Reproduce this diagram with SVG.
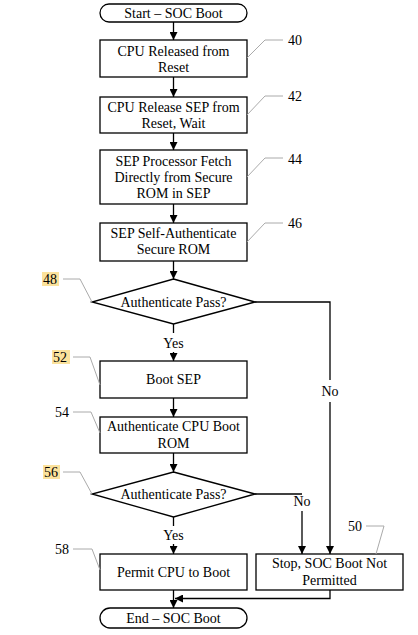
<svg xmlns="http://www.w3.org/2000/svg" width="418" height="635" viewBox="0 0 418 635" font-family="'Liberation Serif', 'DejaVu Serif', serif">
<defs>
<marker id="ah" viewBox="0 0 10 10" refX="10" refY="5" markerWidth="8" markerHeight="8" markerUnits="userSpaceOnUse" orient="auto"><path d="M0,0 L10,5 L0,10 z" fill="#000"/></marker>
</defs>
<style>
.box{fill:#fff;stroke:#000;stroke-width:1.3}
text{font-family:'Liberation Serif','DejaVu Serif',serif}
.t{font-size:14px;fill:#000;text-anchor:middle}
.n{font-size:14px;fill:#000}
.hl{fill:#fbe29c}
.ld{fill:none;stroke:#aaa;stroke-width:1}
.c{fill:none;stroke:#000;stroke-width:1.3}
.ca{fill:none;stroke:#000;stroke-width:1.3;marker-end:url(#ah)}
</style>
<rect width="418" height="635" fill="#fff"/>
<g id="connectors">
<line class="ca" x1="173.5" y1="22" x2="173.5" y2="40"/>
<line class="ca" x1="173.5" y1="77" x2="173.5" y2="97"/>
<line class="ca" x1="173.5" y1="133" x2="173.5" y2="150"/>
<line class="ca" x1="173.5" y1="204" x2="173.5" y2="223"/>
<line class="ca" x1="173.5" y1="261" x2="173.5" y2="279"/>
<line class="c" x1="173.5" y1="324" x2="173.5" y2="333"/>
<text class="t" x="173.5" y="348">Yes</text>
<line class="ca" x1="173.5" y1="352" x2="173.5" y2="361"/>
<line class="ca" x1="173.5" y1="398" x2="173.5" y2="417"/>
<line class="ca" x1="173.5" y1="453" x2="173.5" y2="472"/>
<line class="c" x1="173.5" y1="517" x2="173.5" y2="526"/>
<text class="t" x="173.5" y="540">Yes</text>
<line class="ca" x1="173.5" y1="544" x2="173.5" y2="554"/>
<polyline class="c" points="255,302 330,302 330,380"/>
<text class="t" x="330" y="396">No</text>
<line class="ca" x1="330" y1="402" x2="330" y2="554"/>
<polyline class="c" points="255,494 302,494"/>
<text class="t" x="302" y="506">No</text>
<line class="ca" x1="302" y1="511" x2="302" y2="554"/>
<line class="ca" x1="173.5" y1="590" x2="173.5" y2="608"/>
<polyline class="ca" points="330,590 330,598.5 175,598.5"/>
</g>
<g id="start">
<rect class="box" x="100" y="4" width="147" height="18" rx="9"/>
<text class="t" x="173.5" y="18">Start – SOC Boot</text>
</g>
<g id="n40">
<rect class="box" x="100" y="40" width="147" height="37"/>
<text class="t" x="173.5" y="56">CPU Released from</text>
<text class="t" x="173.5" y="72">Reset</text>
<polyline class="ld" points="283,40 265,40 247,58"/>
<text class="n" x="288" y="45">40</text>
</g>
<g id="n42">
<rect class="box" x="100" y="97" width="147" height="36"/>
<text class="t" x="173.5" y="112">CPU Release SEP from</text>
<text class="t" x="173.5" y="128">Reset, Wait</text>
<polyline class="ld" points="283,96 265,96 247,115"/>
<text class="n" x="288" y="101">42</text>
</g>
<g id="n44">
<rect class="box" x="100" y="150" width="147" height="54"/>
<text class="t" x="173.5" y="166">SEP Processor Fetch</text>
<text class="t" x="173.5" y="182">Directly from Secure</text>
<text class="t" x="173.5" y="198">ROM in SEP</text>
<polyline class="ld" points="283,158 265,158 247,177"/>
<text class="n" x="288" y="164">44</text>
</g>
<g id="n46">
<rect class="box" x="100" y="223" width="147" height="38"/>
<text class="t" x="173.5" y="238">SEP Self-Authenticate</text>
<text class="t" x="173.5" y="254">Secure ROM</text>
<polyline class="ld" points="283,223 265,223 247,242"/>
<text class="n" x="288" y="228">46</text>
</g>
<g id="n48">
<polygon class="box" points="173.5,279 255,302 173.5,324 92,302"/>
<text class="t" x="173.5" y="307">Authenticate Pass?</text>
<rect class="hl" x="42" y="272" width="17" height="14"/>
<text class="n" x="43" y="284">48</text>
<polyline class="ld" points="63,279 80,279 92,302"/>
</g>
<g id="n52">
<rect class="box" x="100" y="361" width="147" height="37"/>
<text class="t" x="173.5" y="384">Boot SEP</text>
<rect class="hl" x="52" y="350" width="18" height="14"/>
<text class="n" x="53" y="362">52</text>
<polyline class="ld" points="73,357 90,357 100,385"/>
</g>
<g id="n54">
<rect class="box" x="100" y="417" width="147" height="36"/>
<text class="t" x="173.5" y="431">Authenticate CPU Boot</text>
<text class="t" x="173.5" y="448">ROM</text>
<text class="n" x="55" y="417">54</text>
<polyline class="ld" points="73,412 91,412 100,433"/>
</g>
<g id="n56">
<polygon class="box" points="173.5,472 255,494 173.5,517 92,494"/>
<text class="t" x="173.5" y="499">Authenticate Pass?</text>
<rect class="hl" x="43" y="465" width="17" height="14"/>
<text class="n" x="44" y="477">56</text>
<polyline class="ld" points="63,472 80,472 92,494"/>
</g>
<g id="n58">
<rect class="box" x="100" y="554" width="147" height="36"/>
<text class="t" x="173.5" y="577">Permit CPU to Boot</text>
<text class="n" x="55" y="554">58</text>
<polyline class="ld" points="73,549 92,549 100,570"/>
</g>
<g id="n50">
<rect class="box" x="256" y="554" width="147" height="36"/>
<text class="t" x="329.5" y="568">Stop, SOC Boot Not</text>
<text class="t" x="329.5" y="585">Permitted</text>
<text class="n" x="348" y="531">50</text>
<polyline class="ld" points="366,526 384,526 376,554"/>
</g>
<g id="end">
<rect class="box" x="100" y="608" width="147" height="20" rx="10"/>
<text class="t" x="173.5" y="623">End – SOC Boot</text>
</g>
</svg>
